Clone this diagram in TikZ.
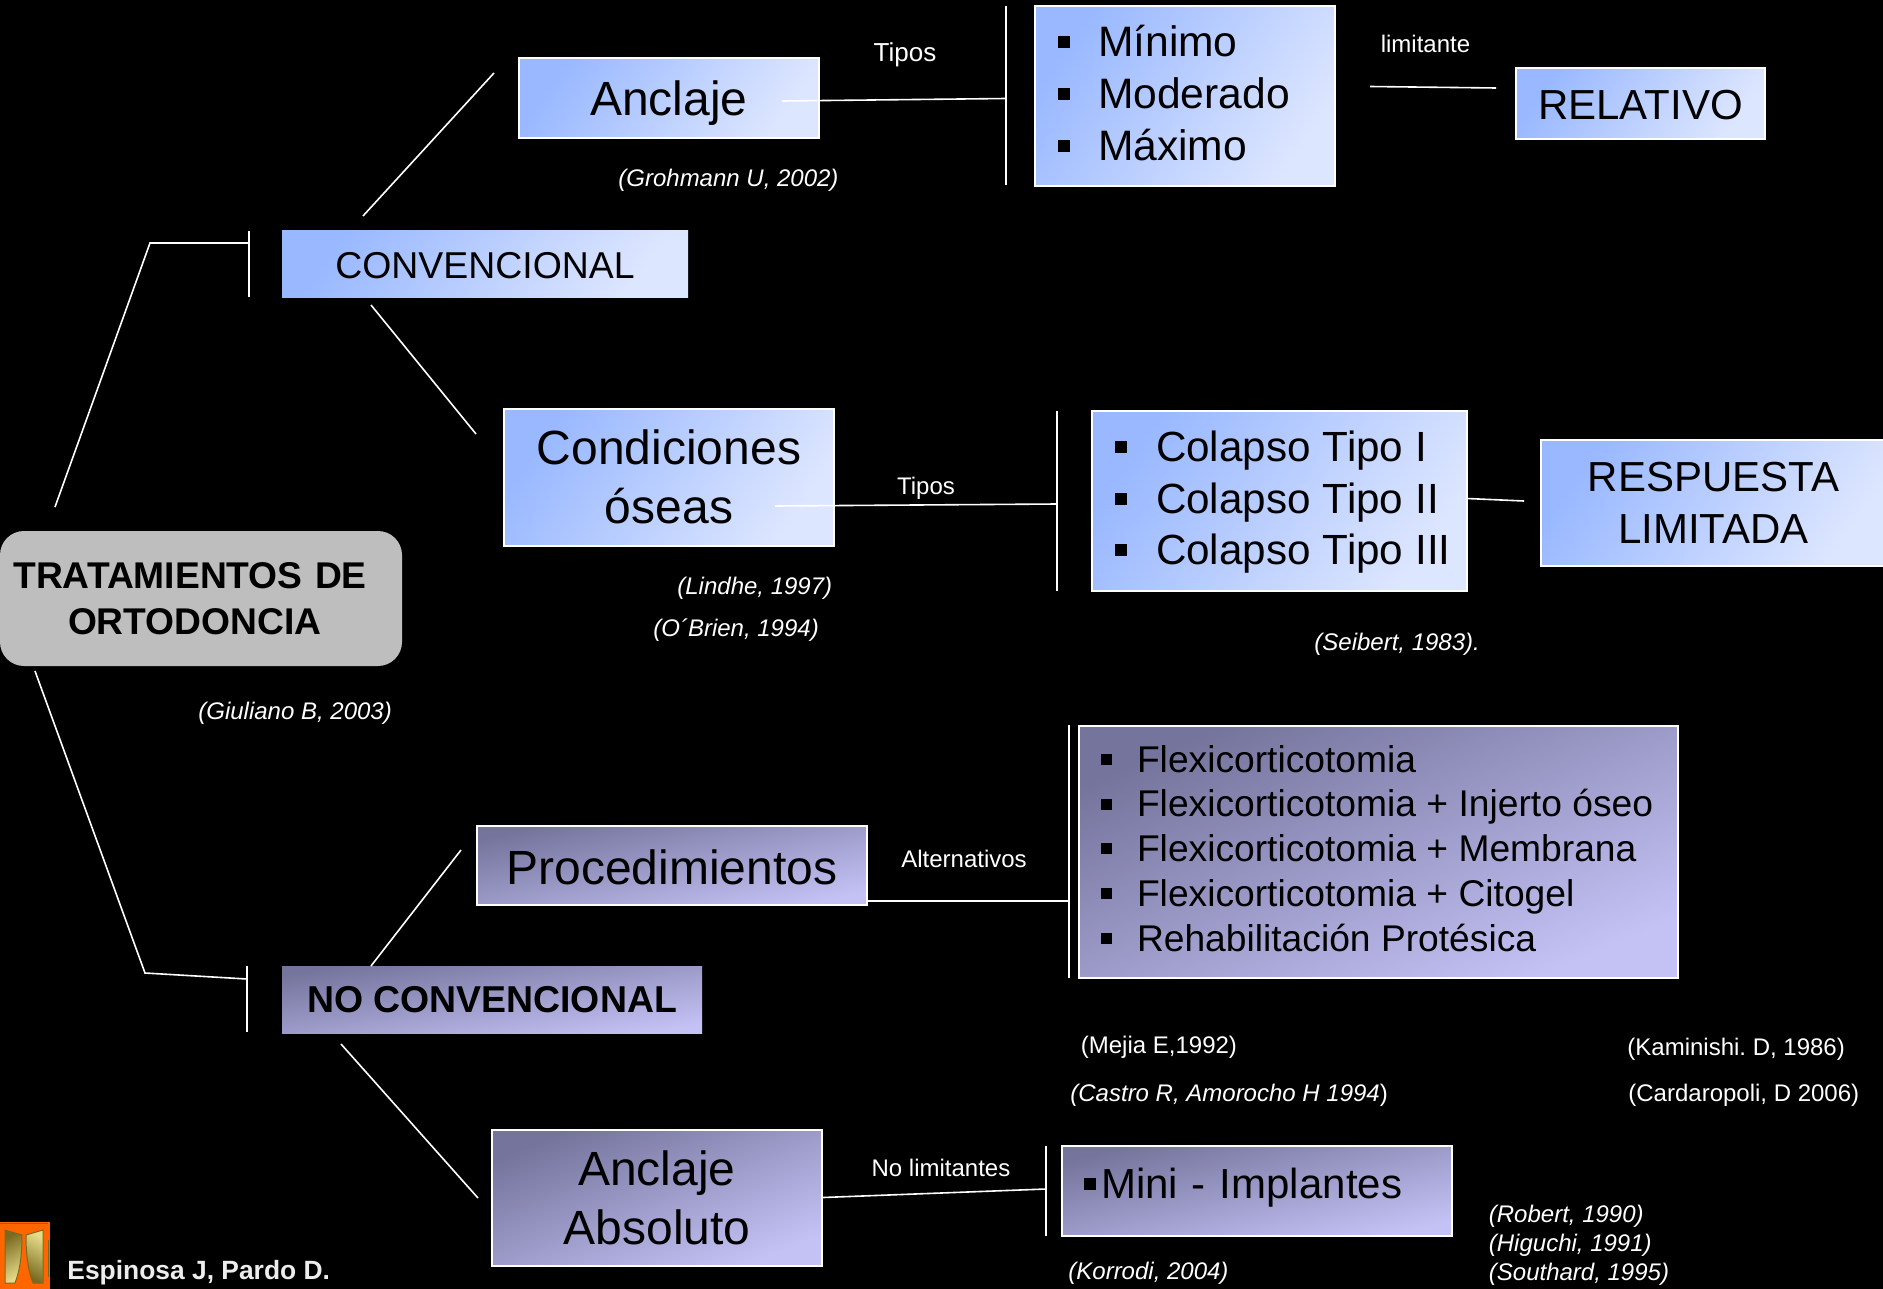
\documentclass[tikz,border=0pt]{standalone}
\usepackage{fontspec}
\setmainfont{Liberation Sans}
\usetikzlibrary{positioning}
\frenchspacing

\definecolor{bluedark}{HTML}{99B8FF}
\definecolor{bluelight}{HTML}{DDE6FF}
\definecolor{lilacdark}{HTML}{75749C}
\definecolor{lilaclight}{HTML}{C4C2F5}
\definecolor{greybox}{HTML}{BEBEBE}
\definecolor{logoorange}{HTML}{FF6600}
\definecolor{logogold}{HTML}{E4DC88}
\definecolor{logodark}{HTML}{7A6A20}

\newcommand{\fsz}[2]{\fontsize{#1}{#2}\selectfont}
\newcommand{\sqbul}[3]{\hspace*{#2}\makebox[#3][l]{\rule[0.2em]{#1}{#1}}}
\newcommand{\liftup}[1]{\rule[-#1]{0pt}{#1}}
\newcommand{\tightwords}[1]{\setlength{\spaceskip}{#1}}

\tikzset{
    bluebox/.style={draw=white, line width=1pt, left color=bluedark, right color=bluelight, shading angle=55, text=black, align=center, inner sep=0pt},
    lilacbox/.style={draw=white, line width=1pt, left color=lilacdark, right color=lilaclight, shading angle=#1, text=black, align=center, inner sep=0pt},
    cite/.style={text=white, anchor=west, inner sep=0pt, font=\fsz{12}{14.4}\itshape, align=left},
    tag/.style={text=white, inner sep=0pt, font=\fsz{12}{14.4}},
    wire/.style={draw=white, line width=0.8pt}
}

\begin{document}
\begin{tikzpicture}[x=0.5pt,y=-0.5pt]
    % page
    \fill[black] (0,0) rectangle (1883,1289);
    \useasboundingbox (0,0) rectangle (1883,1289);

    % draw the main box and the two families
    \node[fill=greybox, rounded corners=12pt, minimum height=67.5pt, text width=201pt, inner sep=0pt, align=left, font=\fsz{18.6}{22.8}\bfseries] (main) at (201,598.5)
        {\hspace*{6.7pt}TRATAMIENTOS DE\\\hspace*{34pt}ORTODONCIA};
    \node[bluebox, draw=none, minimum width=203pt, minimum height=33pt, text height=14.5pt, font=\fsz{18.7}{22}] (conv) at (485,264) {CONVENCIONAL};
    \node[lilacbox=9, draw=none, minimum width=210pt, minimum height=33.5pt, font=\fsz{18.7}{22}\bfseries] (noconv) at (492,999.5) {NO CONVENCIONAL};

    % draw the upper boxes
    \node[bluebox, minimum width=150pt, minimum height=40pt, text height=22.3pt, font=\fsz{24}{29}] (anclaje) at (669,98) {Anclaje};
    \node[bluebox, minimum height=90pt, text width=150pt, align=left, font=\fsz{21.3}{25.8}] (grados) at (1185,96)
        {\sqbul{6pt}{11.5pt}{20pt}Mínimo\\\sqbul{6pt}{11.5pt}{20pt}Moderado\\\sqbul{6pt}{11.5pt}{20pt}Máximo\liftup{3.2pt}};
    \node[bluebox, minimum width=124.5pt, minimum height=35.5pt, text height=16.7pt, font=\fsz{21}{25}] (relativo) at (1640.5,103.5) {RELATIVO};
    \node[bluebox, minimum width=165pt, minimum height=68.5pt, font=\fsz{24}{29.5}] (condiciones) at (669,477) {Condiciones\\óseas};
    \node[bluebox, minimum height=90pt, text width=187.5pt, align=left, font=\fsz{21.1}{25.8}] (colapso) at (1279.5,501)
        {\tightwords{0.285em}\rule{0pt}{16.7pt}\sqbul{6pt}{11.5pt}{20.5pt}Colapso Tipo I\\\sqbul{6pt}{11.5pt}{20.5pt}Colapso Tipo II\\\sqbul{6pt}{11.5pt}{20.5pt}Colapso Tipo III};
    \node[bluebox, minimum width=173pt, minimum height=63pt, font=\fsz{21}{26}] (respuesta) at (1713.5,503) {RESPUESTA\\LIMITADA};

    % draw the lower boxes
    \node[lilacbox=12, minimum width=195pt, minimum height=39.5pt, text height=19pt, font=\fsz{24}{29}] (procedimientos) at (672,865.5) {Procedimientos};
    \node[lilacbox=23, minimum height=126pt, text width=299.5pt, align=left, font=\fsz{18.6}{22.35}] (flexi) at (1378.5,852)
        {\tightwords{0.28em}\sqbul{5.5pt}{11pt}{18pt}Flexicorticotomia\\\sqbul{5.5pt}{11pt}{18pt}Flexicorticotomia + Injerto óseo\\\sqbul{5.5pt}{11pt}{18pt}Flexicorticotomia + Membrana\\\sqbul{5.5pt}{11pt}{18pt}Flexicorticotomia + Citogel\\\sqbul{5.5pt}{11pt}{18pt}Rehabilitación Protésica\liftup{3.8pt}};
    \node[lilacbox=22, minimum width=165pt, minimum height=68pt, font=\fsz{24}{29.5}] (absoluto) at (657,1197.5) {Anclaje\\Absoluto};
    \node[lilacbox=13, minimum height=45pt, text width=195pt, align=left, font=\fsz{21}{25.8}] (mini) at (1257,1191)
        {\sqbul{6pt}{11pt}{8.5pt}Mini - Implantes\liftup{8pt}};

    % draw the free ends of the connectors
    \coordinate (mainup) at (55,507);
    \coordinate (elbowup) at (150,243);
    \coordinate (barupt) at (249,231);
    \coordinate (barupb) at (249,297);
    \coordinate (barupm) at (249,243);
    \coordinate (convat) at (363,216);
    \coordinate (convan) at (494,73);
    \coordinate (convct) at (371,305);
    \coordinate (convcn) at (476,434);
    \coordinate (anclout) at (782,101);
    \coordinate (gradm) at (1006,98.5);
    \coordinate (gradt) at (1006,6);
    \coordinate (gradb) at (1006,185);
    \coordinate (limita) at (1370,86.5);
    \coordinate (limitb) at (1496,88);
    \coordinate (condout) at (775,506);
    \coordinate (colm) at (1057,504);
    \coordinate (colt) at (1057,411);
    \coordinate (colb) at (1057,591);
    \coordinate (colout) at (1467,498.5);
    \coordinate (respin) at (1524,501);
    \coordinate (maindown) at (35,671);
    \coordinate (elbowdown) at (145,973);
    \coordinate (bardownm) at (247,979);
    \coordinate (bardownt) at (247,966);
    \coordinate (bardownb) at (247,1032);
    \coordinate (nocpt) at (371,966);
    \coordinate (nocpn) at (461,850);
    \coordinate (nocat) at (341,1044);
    \coordinate (nocan) at (478,1198);
    \coordinate (procout) at (867,901);
    \coordinate (flexm) at (1069,901);
    \coordinate (flext) at (1069,725);
    \coordinate (flexb) at (1069,978);
    \coordinate (minim) at (1046,1189);
    \coordinate (minit) at (1046,1146);
    \coordinate (minib) at (1046,1236);

    % draw the connectors
    \draw[wire] (mainup) -- (elbowup) -- (barupm);
    \draw[wire] (barupt) -- (barupb);
    \draw[wire] (convat) -- (convan);
    \draw[wire] (convct) -- (convcn);
    \draw[wire] (anclout) -- (gradm);
    \draw[wire] (gradt) -- (gradb);
    \draw[wire] (limita) -- (limitb);
    \draw[wire] (condout) -- (colm);
    \draw[wire] (colt) -- (colb);
    \draw[wire] (colout) -- (respin);
    \draw[wire] (maindown) -- (elbowdown) -- (bardownm);
    \draw[wire] (bardownt) -- (bardownb);
    \draw[wire] (nocpt) -- (nocpn);
    \draw[wire] (nocat) -- (nocan);
    \draw[wire] (procout) -- (flexm);
    \draw[wire] (flext) -- (flexb);
    \draw[wire] (absoluto.east) -- (minim);
    \draw[wire] (minit) -- (minib);

    % draw the labels over the connectors
    \node[tag, font=\fsz{13}{15}] (tipos) at (905,54.4) {Tipos};
    \node[tag] (limitante) at (1425.5,43.6) {limitante};
    \node[tag] (tiposb) at (926,488.4) {Tipos};
    \node[tag] (alternativos) at (964,859) {Alternativos};
    \node[tag] (nolimitantes) at (941,1168) {No limitantes};

    % draw the references
    \node[cite] (grohmann) at (618,180.4) {(Grohmann U, 2002)};
    \node[cite] (giuliano) at (198,713.4) {(Giuliano B, 2003)};
    \node[cite] (lindhe) at (677,588.4) {(Lindhe, 1997)};
    \node[cite] (obrien) at (653,630.4) {(O´Brien, 1994)};
    \node[cite] (seibert) at (1314,644.4) {(Seibert, 1983).};
    \node[cite, font=\fsz{12}{14.4}] (mejia) at (1080.5,1047.4) {(Mejia E,1992)};
    \node[cite] (castro) at (1070,1095.4) {(Castro R, Amorocho H 1994{\upshape)}};
    \node[cite, font=\fsz{12}{14.4}] (kaminishi) at (1627,1049.4) {(Kaminishi. D, 1986)};
    \node[cite, font=\fsz{12}{14.4}] (cardaropoli) at (1628,1095.4) {(Cardaropoli, D 2006)};
    \node[cite] (korrodi) at (1068,1273.5) {(Korrodi, 2004)};
    \node[cite] (robert) at (1488.5,1245.4) {(Robert, 1990)\\(Higuchi, 1991)\\(Southard, 1995)};

    % draw the logo and the authors
    \fill[logoorange] (0,1222) rectangle (50,1289);
    \draw[logodark, line width=0.5pt] (0,1223) -- (48,1223) (48,1240) -- (48,1277);
    \draw[logodark, line width=0.5pt, left color=logodark, right color=logogold, shading angle=30] (5,1230) -- (22,1235) .. controls (22,1255) and (20,1270) .. (15,1283) -- (5,1283) -- cycle;
    \draw[logodark, line width=0.5pt, left color=logogold, right color=logodark, shading angle=-30] (43,1230) -- (26,1235) .. controls (26,1255) and (28,1270) .. (33,1283) -- (43,1283) -- cycle;
    \node[text=white!93!black, anchor=west, inner sep=0pt, font=\fsz{13.2}{16}\bfseries] (autores) at (67,1272.6) {Espinosa J, Pardo D.};
\end{tikzpicture}
\end{document}
